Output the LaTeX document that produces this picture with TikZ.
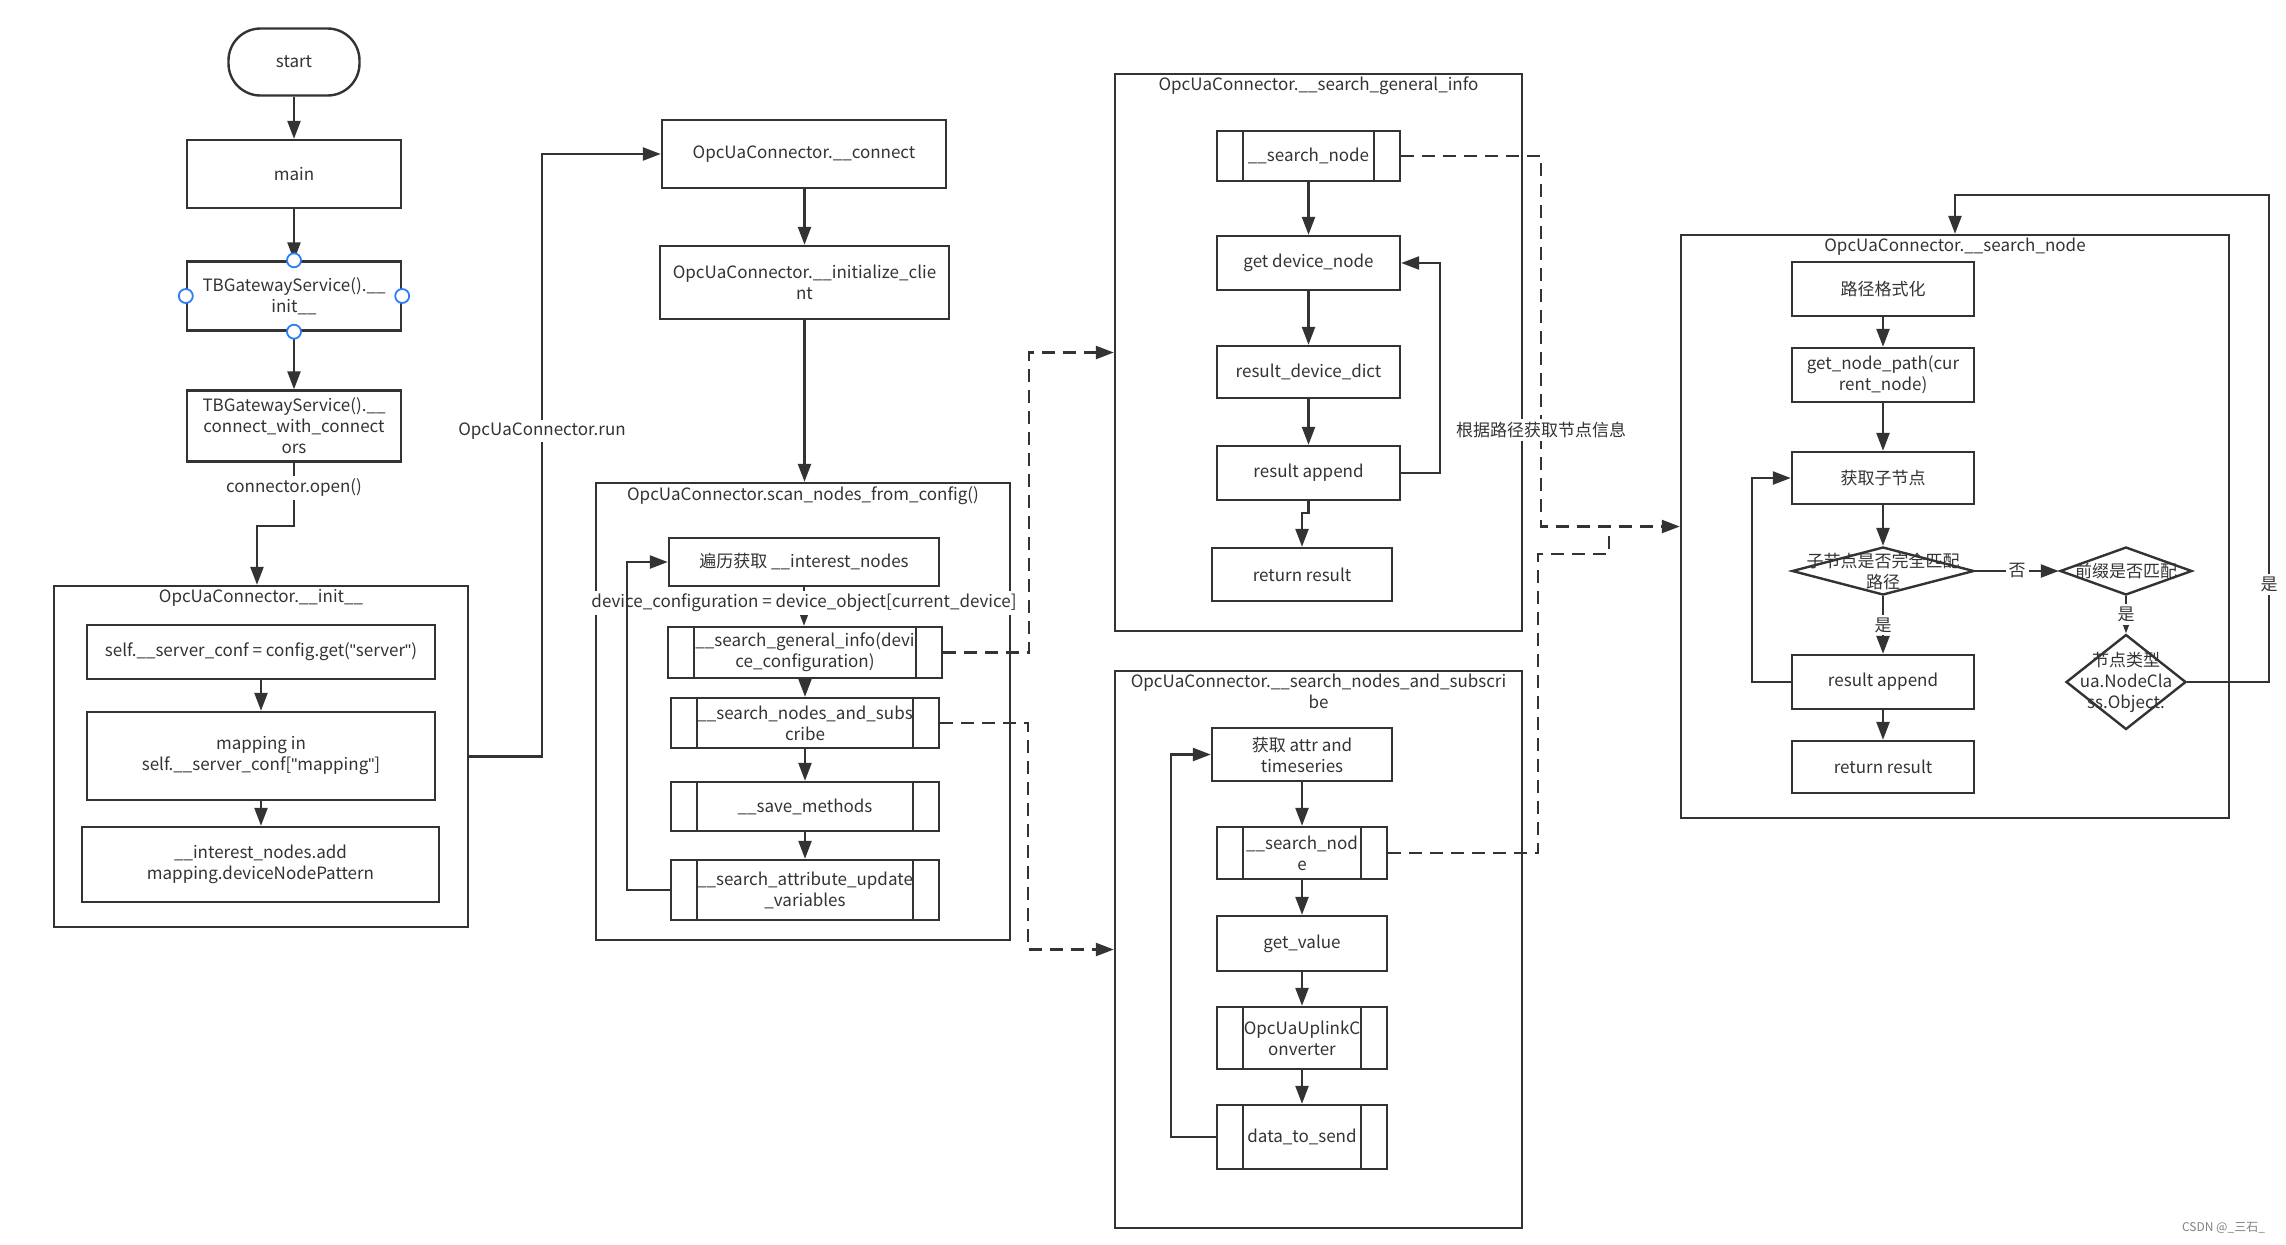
\documentclass[tikz,border=0pt]{standalone}
\usepackage{fontspec}
\setmainfont{Noto Sans CJK SC}
\newfontfamily\quotefont{Liberation Sans}
\newcommand\qmark{{\quotefont"}}
\usetikzlibrary{arrows.meta,shapes.geometric,positioning}
\definecolor{ink}{HTML}{333333}
\definecolor{handleblue}{HTML}{2F7DF6}

\begin{document}
\begin{tikzpicture}[x=0.5pt,y=-0.5pt]
\tikzstyle{every node}+=[font=\fontsize{8.5}{10.5}\selectfont, text=ink]
\tikzstyle{box}=[draw=ink, line width=1.2pt, rectangle, align=center, inner sep=1pt]
\tikzstyle{subproc}=[box, path picture={\draw[ink, line width=1.2pt] ([xshift=13pt]path picture bounding box.north west) -- ([xshift=13pt]path picture bounding box.south west) ([xshift=-13pt]path picture bounding box.north east) -- ([xshift=-13pt]path picture bounding box.south east);}]
\tikzstyle{groupbox}=[draw=ink, line width=1.2pt, rectangle, inner sep=0pt]
\tikzstyle{cond}=[draw=ink, line width=1.2pt, diamond, inner sep=0pt]
\tikzstyle{ttl}=[inner sep=2pt, align=center]
\tikzstyle{flow}=[draw=ink, line width=1.2pt, -{Triangle[length=9pt,width=6.5pt]}]
\tikzstyle{dashflow}=[flow, dash pattern=on 6.5pt off 4pt]
\tikzstyle{lbl}=[fill=white, inner sep=1.5pt]
\tikzstyle{handle}=[circle, draw=handleblue, fill=white, line width=0.9pt, minimum size=7pt, inner sep=0pt]
\useasboundingbox (0,0) rectangle (2286,1244);

\node[box, rounded corners=16pt, minimum width=65.5pt, minimum height=33.5pt] (start) at (294,62) {start};
\node[box, minimum width=107pt, minimum height=34pt] (main) at (294,174) {main};
\node[box, minimum width=107pt, minimum height=34.5pt] (tbinit) at (294,296) {TBGatewayService().\_\_\\init\_\_};
\node[box, minimum width=107pt, minimum height=35.5pt] (tbconn) at (294,426) {TBGatewayService().\_\_\\connect\_with\_connect\\ors};

\node[groupbox, minimum width=207pt, minimum height=170.5pt] (oinit) at (261,756.5) {};
\node[ttl, below=0pt of oinit.north] (oinitT) {OpcUaConnector.\_\_init\_\_};
\node[box, minimum width=174pt, minimum height=27pt] (scfg) at (261,652) {self.\_\_server\_conf = config.get(\qmark server\qmark)};
\node[box, minimum width=174pt, minimum height=44pt] (mapbox) at (261,756) {mapping in\\self.\_\_server\_conf[\qmark mapping\qmark]};
\node[box, minimum width=178.5pt, minimum height=37.5pt] (addbox) at (260.5,864.5) {\_\_interest\_nodes.add\\mapping.deviceNodePattern};

\node[box, minimum width=142pt, minimum height=34pt] (connect) at (804,154) {OpcUaConnector.\_\_connect};
\node[box, minimum width=144.5pt, minimum height=36.5pt] (initc) at (804.5,282.5) {OpcUaConnector.\_\_initialize\_clie\\nt};
\node[groupbox, minimum width=207pt, minimum height=228.5pt] (scan) at (803,711.5) {};
\node[ttl, below=0pt of scan.north] (scanT) {OpcUaConnector.scan\_nodes\_from\_config()};
\node[box, minimum width=135pt, minimum height=24pt] (inodes) at (804,562) {遍历获取 \_\_interest\_nodes};
\node[subproc, minimum width=137pt, minimum height=25.5pt] (sgi) at (805,652.5) {\_\_search\_general\_info(devi\\ce\_configuration)};
\node[subproc, minimum width=134pt, minimum height=25pt] (snas) at (805,723) {\_\_search\_nodes\_and\_subs\\cribe};
\node[subproc, minimum width=134pt, minimum height=24.5pt] (save) at (805,806.5) {\_\_save\_methods};
\node[subproc, minimum width=134pt, minimum height=30pt] (attr) at (805,890) {\_\_search\_attribute\_update\\\_variables};

\node[groupbox, minimum width=203.5pt, minimum height=278.5pt] (sgiC) at (1318.5,352.5) {};
\node[ttl, below=0pt of sgiC.north] (sgiT) {OpcUaConnector.\_\_search\_general\_info};
\node[subproc, minimum width=91.5pt, minimum height=25pt] (gsn) at (1308.5,156) {\_\_search\_node};
\node[box, minimum width=91.5pt, minimum height=27pt] (gdn) at (1308.5,263) {get device\_node};
\node[box, minimum width=91.5pt, minimum height=26pt] (rdd) at (1308.5,372) {result\_device\_dict};
\node[box, minimum width=91.5pt, minimum height=27pt] (rap) at (1308.5,473) {result append};
\node[box, minimum width=90pt, minimum height=26.5pt] (rret) at (1302,574.5) {return result};

\node[groupbox, minimum width=203.5pt, minimum height=278.5pt] (snasC) at (1318.5,949.5) {};
\node[ttl, below=0pt of snasC.north] (snasT) {OpcUaConnector.\_\_search\_nodes\_and\_subscri\\be};
\node[box, minimum width=90pt, minimum height=26.5pt] (gattr) at (1302,754.5) {获取 attr and\\timeseries};
\node[subproc, minimum width=85pt, minimum height=26pt] (ssn) at (1302,853) {\_\_search\_nod\\e};
\node[box, minimum width=85pt, minimum height=27.5pt] (gval) at (1302,943.5) {get\_value};
\node[subproc, minimum width=85pt, minimum height=31pt] (conv) at (1302,1038) {OpcUaUplinkC\\onverter};
\node[subproc, minimum width=85pt, minimum height=32pt] (dsend) at (1302,1137) {data\_to\_send};

\node[groupbox, minimum width=274pt, minimum height=291.5pt] (snC) at (1955,526.5) {};
\node[ttl, below=0pt of snC.north] (snT) {OpcUaConnector.\_\_search\_node};
\node[box, minimum width=91pt, minimum height=27pt] (fmt) at (1883,289) {路径格式化};
\node[box, minimum width=91pt, minimum height=27pt] (gnp) at (1883,375) {get\_node\_path(cur\\rent\_node)};
\node[box, minimum width=91pt, minimum height=26pt] (gchild) at (1883,478) {获取子节点};
\node[cond, minimum width=91pt, minimum height=24pt, label={[align=center]center:子节点是否完全匹配\\路径}] (dfull) at (1883,571) {};
\node[cond, minimum width=66pt, minimum height=24pt, label={center:前缀是否匹配}] (dpre) at (2126,571) {};
\node[cond, minimum width=60pt, minimum height=47.5pt, label={[align=center]center:节点类型\\ua.NodeCla\\ss.Object.}] (dtype) at (2126,682) {};
\node[box, minimum width=91pt, minimum height=27pt] (rap2) at (1883,682) {result append};
\node[box, minimum width=91pt, minimum height=26pt] (rret2) at (1883,767) {return result};

\node[text=gray, font=\fontsize{6}{7}\selectfont, anchor=east] (mark) at (2272,1228) {CSDN @\_三石\_};

\draw[flow] (start.south) -- (main.north);
\draw[flow] (main.south) -- (tbinit.north);
\draw[flow] (tbinit.south) -- (tbconn.north);
\draw[flow] (tbconn.south) -- node[lbl, pos=0.4]{connector.open()} ++(0,63) -| ([xshift=-2pt]oinit.north);
\draw[flow] (scfg.south) -- (mapbox.north);
\draw[flow] (mapbox.south) -- (mapbox.south |- addbox.north);
\coordinate (runturn) at (542,154);
\draw[flow] (oinit.east) -| node[lbl, pos=0.77]{OpcUaConnector.run} (runturn) -- (connect.west);

\draw[flow] (connect.south) -- (initc.south |- connect.south) -- (initc.north);
\draw[flow] (initc.south) -- (initc.south |- scan.north);
\draw[flow] (inodes.south) -- node[lbl, pos=0.4]{device\_configuration = device\_object[current\_device]} (inodes.south |- sgi.north);
\draw[flow] (sgi.south) -- (snas.north);
\draw[flow] (snas.south) -- (save.north);
\draw[flow] (save.south) -- (attr.north);
\draw[flow] (attr.west) -- ++(-43,0) |- (inodes.west);
\draw[dashflow] (sgi.east) -- ++(86,0) |- (sgiC.west);
\draw[dashflow] (snas.east) -- ++(88,0) |- (snasC.west);

\draw[flow] (gsn.south) -- (gdn.north);
\draw[flow] (gdn.south) -- (rdd.north);
\draw[flow] (rdd.south) -- (rap.north);
\draw[flow] (rap.south) -- ++(0,12) -| (rret.north);
\draw[flow] (rap.east) -- ++(39,0) |- (gdn.east);
\draw[dashflow] (gsn.east) -- ++(140,0) |- node[lbl, pos=0.37]{根据路径获取节点信息} (snC.west);

\draw[flow] (gattr.south) -- (ssn.north);
\draw[flow] (ssn.south) -- (gval.north);
\draw[flow] (gval.south) -- (conv.north);
\draw[flow] (conv.south) -- (dsend.north);
\draw[flow] (dsend.west) -- ++(-45,0) |- (gattr.west);
\draw[dashflow, -] (ssn.east) -| ++(150,-299) -| ([xshift=-35.5pt]snC.west);

\draw[flow] (fmt.south) -- (gnp.north);
\draw[flow] (gnp.south) -- (gchild.north);
\draw[flow] (gchild.south) -- (dfull.north);
\draw[flow] (dfull.east) -- node[lbl]{否} (dpre.west);
\draw[flow] (dfull.south) -- node[lbl]{是} (rap2.north);
\draw[flow] (dpre.south) -- node[lbl]{是} (dtype.north);
\draw[flow] (rap2.south) -- (rret2.north);
\draw[flow] (rap2.west) -- ++(-39,0) |- (gchild.west);
\coordinate (backtop) at (2269,195);
\draw[flow] (dtype.east) -| node[lbl, pos=0.6]{是} (backtop) -| (snC.north);

\node[handle] (hN) at (tbinit.north) {};
\node[handle] (hS) at (tbinit.south) {};
\node[handle] (hW) at (tbinit.west) {};
\node[handle] (hE) at (tbinit.east) {};
\end{tikzpicture}
\end{document}
